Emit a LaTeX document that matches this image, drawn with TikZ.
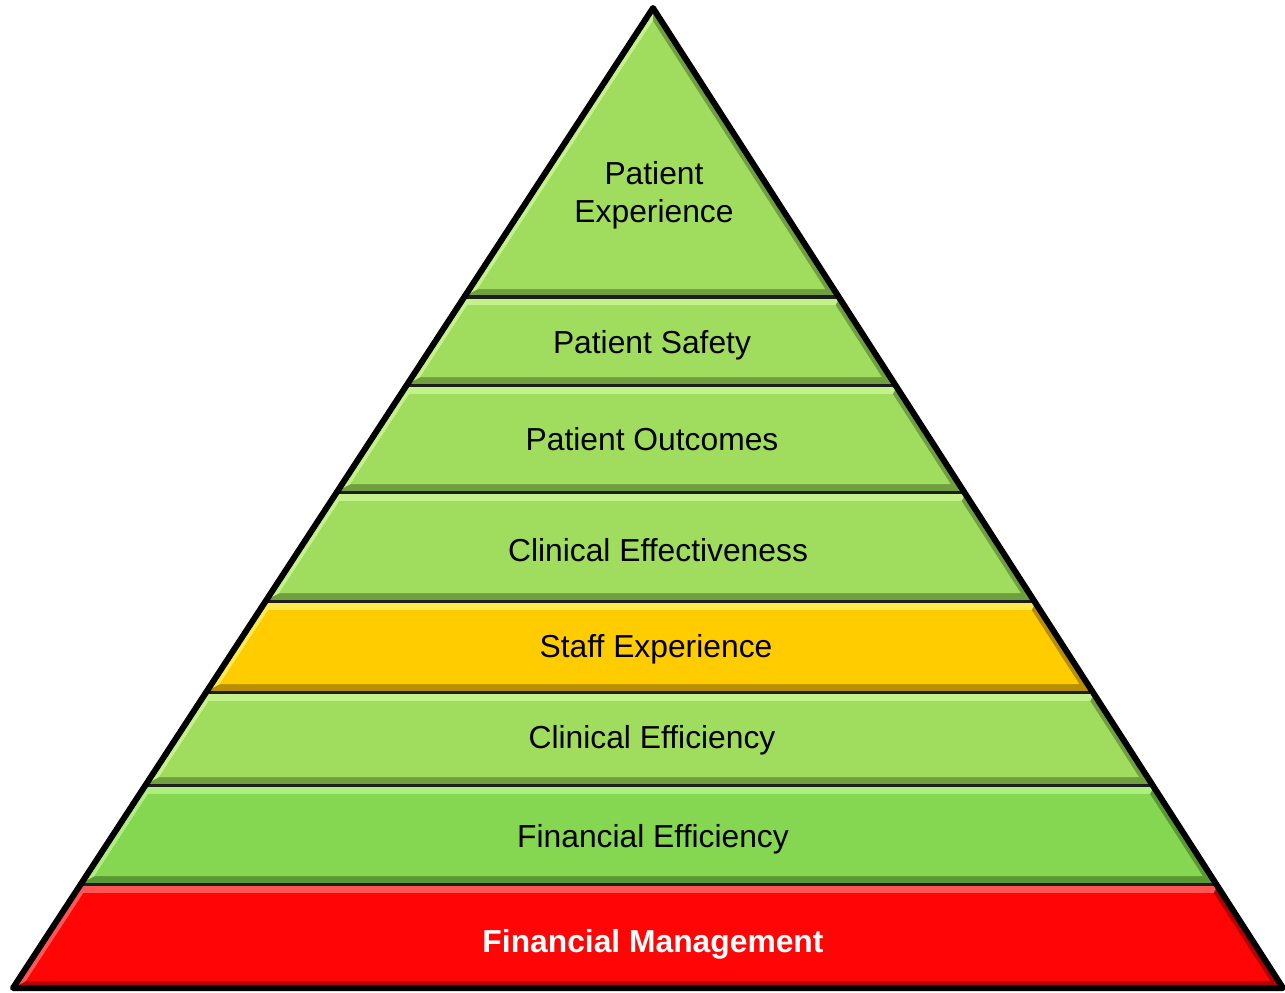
\documentclass[tikz,border=0pt]{standalone}
\usepackage{fontspec}
\setmainfont{Liberation Sans}
\definecolor{gbase}{HTML}{A0DC5E}
\definecolor{glight}{HTML}{C4F28A}
\definecolor{gdark}{HTML}{6F9F3F}
\definecolor{fbase}{HTML}{85D651}
\definecolor{flight}{HTML}{ADEE80}
\definecolor{fdark}{HTML}{5B9A33}
\definecolor{ybase}{HTML}{FFCC00}
\definecolor{ylight}{HTML}{FFEA4D}
\definecolor{ydark}{HTML}{B88F00}
\definecolor{rbase}{HTML}{FF0505}
\definecolor{rlight}{HTML}{FF5555}
\definecolor{rdark}{HTML}{B30000}
\definecolor{sepline}{HTML}{1E1E1E}
\newcommand{\pyrlayer}[6]{%
  \pgfmathsetmacro{\tA}{#1}\pgfmathsetmacro{\bA}{#2}\pgfmathsetmacro{\tI}{#3}%
  \pgfmathsetmacro{\bI}{\bA-7}%
  \pgfmathsetmacro{\ltx}{653-0.653*(\tA-8)}\pgfmathsetmacro{\rtx}{653+0.643*(\tA-8)}%
  \pgfmathsetmacro{\lbx}{653-0.653*(\bA-8)}\pgfmathsetmacro{\rbx}{653+0.643*(\bA-8)}%
  \pgfmathsetmacro{\ltI}{653-0.653*(\tI-8)+8.5}\pgfmathsetmacro{\rtI}{653+0.643*(\tI-8)-8.5}%
  \pgfmathsetmacro{\lbI}{653-0.653*(\bI-8)+8.5}\pgfmathsetmacro{\rbI}{653+0.643*(\bI-8)-8.5}%
  \fill[#6] (\ltx,\tA) -- (\rtx,\tA) -- (\rbx,\bA) -- (\lbx,\bA) -- cycle;
  \fill[#5] (\lbx,\bA) -- (\ltx,\tA) -- (\rtx,\tA) -- (\rtI,\tI) -- (\ltI,\tI) -- (\lbI,\bI) -- cycle;
  \fill[#4] (\ltI,\tI) -- (\rtI,\tI) -- (\rbI,\bI) -- (\lbI,\bI) -- cycle;
}
\tikzset{
  lbl/.style={anchor=base, inner sep=0pt, font=\fontsize{31.8}{38}\selectfont, text=black},
  lblbold/.style={lbl, font=\fontsize{31.8}{38}\selectfont\bfseries, text=white},
  sep/.style={draw=sepline, line width=3.2pt},
  outline/.style={draw=black, line width=6pt, line join=round}
}
\begin{document}
\begin{tikzpicture}[x=1pt,y=-1pt]
\useasboundingbox (0,0) rectangle (1285,993);
\fill[white] (0,0) rectangle (1285,993);
% layers
\pyrlayer{8}{296}{21.1}{gbase}{glight}{gdark}
\pyrlayer{298}{384}{305}{gbase}{glight}{gdark}
\pyrlayer{387}{491}{394}{gbase}{glight}{gdark}
\pyrlayer{494}{600}{501}{gbase}{glight}{gdark}
\pyrlayer{603}{691}{610}{ybase}{ylight}{ydark}
\pyrlayer{694}{784}{701}{gbase}{glight}{gdark}
\pyrlayer{787}{883}{794}{fbase}{flight}{fdark}
\pyrlayer{886}{988}{893}{rbase}{rlight}{rdark}
% separators
\coordinate (a) at (653,8);
\coordinate (bl) at (13,988);
\coordinate (br) at (1283,988);
\foreach \yy in {297,385.5,492.5,601.5,692.5,785.5,884.5}{
  \draw[sep] ({653-0.653*(\yy-8)},\yy) -- ({653+0.643*(\yy-8)},\yy);
}
\draw[outline] (a) -- (br) -- (bl) -- cycle;
% labels
\node[lbl] (t1) at (654,184) {Patient};
\node[lbl] (t2) at (654,222) {Experience};
\node[lbl] (t3) at (652,353) {Patient Safety};
\node[lbl] (t4) at (652,450) {Patient Outcomes};
\node[lbl] (t5) at (658,561) {Clinical Effectiveness};
\node[lbl] (t6) at (656,657) {Staff Experience};
\node[lbl] (t7) at (652,748) {Clinical Efficiency};
\node[lbl] (t8) at (653,847) {Financial Efficiency};
\node[lblbold] (t9) at (653,952) {Financial Management};
\end{tikzpicture}
\end{document}
